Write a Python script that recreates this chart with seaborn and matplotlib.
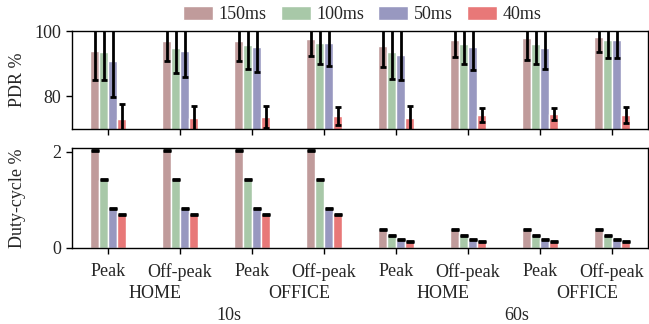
import numpy as np
import pandas as pd
import seaborn as sns
import matplotlib.pyplot as plt

# x categories (interval / place / period)
intervals = ["10s", "10s", "10s", "10s", "60s", "60s", "60s", "60s"]
places = ["HOME", "HOME", "OFFICE", "OFFICE", "HOME", "HOME", "OFFICE", "OFFICE"]
periods = ["Peak", "Off-peak", "Peak", "Off-peak", "Peak", "Off-peak", "Peak", "Off-peak"]
series = ["150ms", "100ms", "50ms", "40ms"]
colors = ["#c09b9b", "#a8c8a8", "#9898c0", "#e87878"]

# PDR % (mean, std) per series
pdr = {
    "150ms": [93.9, 97.0, 97.0, 97.6, 95.5, 97.3, 97.9, 98.2],
    "100ms": [93.7, 94.8, 95.8, 96.5, 93.6, 96.1, 96.1, 97.3],
    "50ms":  [90.9, 93.9, 95.2, 96.2, 92.7, 95.2, 94.8, 97.3],
    "40ms":  [73.0, 73.4, 73.7, 73.9, 73.3, 74.2, 74.5, 74.2],
}
pdr_err = {
    "150ms": [9.0, 6.1, 6.2, 5.2, 6.5, 5.3, 6.8, 4.7],
    "100ms": [8.8, 7.5, 7.3, 6.6, 8.2, 6.3, 6.2, 5.5],
    "50ms":  [11.0, 8.1, 7.6, 6.8, 7.8, 7.1, 6.4, 5.6],
    "40ms":  [4.8, 3.7, 3.4, 2.8, 3.8, 2.2, 1.8, 2.4],
}

# Duty-cycle % per series
duty = {
    "150ms": [2.02, 2.02, 2.02, 2.02, 0.38, 0.38, 0.38, 0.38],
    "100ms": [1.42, 1.42, 1.42, 1.42, 0.26, 0.26, 0.26, 0.26],
    "50ms":  [0.82, 0.82, 0.82, 0.82, 0.165, 0.165, 0.165, 0.165],
    "40ms":  [0.70, 0.70, 0.70, 0.70, 0.13, 0.13, 0.13, 0.13],
}
duty_err = {
    "150ms": [0.01] * 8,
    "100ms": [0.01] * 8,
    "50ms":  [0.01] * 8,
    "40ms":  [0.01] * 8,
}

FS = 13

sns.set_style("white")
plt.rcParams['font.family'] = 'serif'
plt.rcParams['font.serif'] = ['Liberation Serif', 'Times New Roman', 'DejaVu Serif']
plt.rcParams['font.size'] = FS

keys = [f"{a}-{b}-{c}" for a, b, c in zip(intervals, places, periods)]


def to_frame(values):
    rows = []
    for s in series:
        for k, v in zip(keys, values[s]):
            rows.append({"key": k, "series": s, "value": v})
    return pd.DataFrame(rows)


def draw(ax, values, errs, capsize, lw):
    df = to_frame(values)
    sns.barplot(data=df, x="key", y="value", hue="series", order=keys,
                hue_order=series, palette=colors, width=0.5, errorbar=None,
                saturation=1, ax=ax, legend=True)
    # bars come out grouped by hue, in key order
    patches = ax.patches[:len(series) * len(keys)]
    for i, s in enumerate(series):
        for j in range(len(keys)):
            p = patches[i * len(keys) + j]
            xc = p.get_x() + p.get_width() / 2
            ax.errorbar(xc, values[s][j], yerr=errs[s][j], fmt="none",
                        ecolor="black", elinewidth=lw, capsize=capsize,
                        capthick=2)


fig = plt.figure(figsize=(6.49, 3.24), dpi=100)
ax1 = fig.add_axes([0.111, 0.602, 0.8875, 0.302])
ax2 = fig.add_axes([0.111, 0.235, 0.8875, 0.308])

draw(ax1, pdr, pdr_err, 2.2, 2)
draw(ax2, duty, duty_err, 2.6, 2)

ax1.set_ylim(70, 100)
ax1.set_yticks([80, 100])
ax2.set_ylim(0, 2.08)
ax2.set_yticks([0, 2])
for ax in (ax1, ax2):
    ax.set_xlim(-0.5, 7.5)
    ax.set_xlabel("")
    for sp in ax.spines.values():
        sp.set_color("black")
        sp.set_linewidth(1)
    ax.tick_params(axis="both", direction="out", length=4, width=1,
                   color="black", bottom=True, left=True, labelsize=FS)
ax2.tick_params(axis="x", pad=7)

ax1.set_xticklabels([])
ax2.set_xticklabels(periods)
ax1.set_ylabel("PDR %", fontsize=FS)
ax2.set_ylabel("Duty-cycle %", fontsize=FS)
ax1.yaxis.set_label_coords(-0.08, 0.5)
ax2.yaxis.set_label_coords(-0.08, 0.5)

handles, labels = ax1.get_legend_handles_labels()
ax1.get_legend().remove()
ax2.get_legend().remove()
fig.legend(handles, labels, loc="center", bbox_to_anchor=(0.558, 0.955),
           ncol=4, frameon=False, fontsize=FS, handlelength=1.65,
           handleheight=0.8, columnspacing=0.8, handletextpad=0.3)

# second and third level group labels
trans = ax2.get_xaxis_transform()
for g in range(4):
    ax2.text(2 * g + 0.5 + 0.15, -0.46, places[2 * g], transform=trans,
             ha="center", va="center", fontsize=FS)
for g in range(2):
    ax2.text(4 * g + 1.5 + 0.18, -0.68, intervals[4 * g], transform=trans,
             ha="center", va="center", fontsize=FS)

fig.savefig("out.png", dpi=100)
